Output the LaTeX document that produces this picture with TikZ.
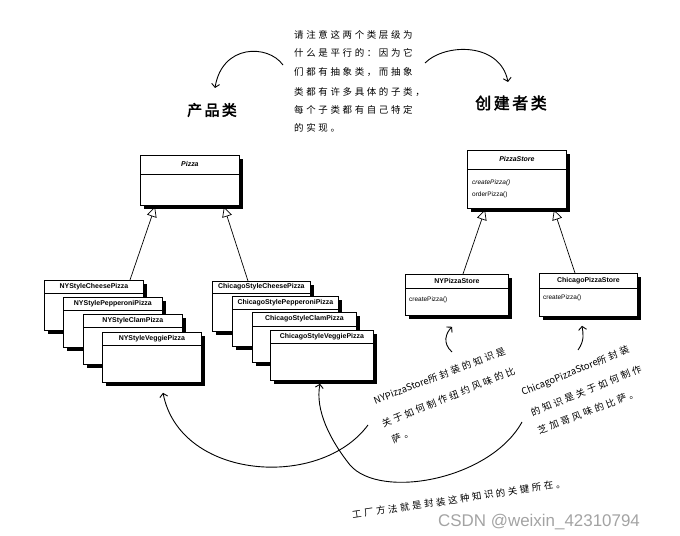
\documentclass[tikz,border=0pt]{standalone}
\usepackage{fontspec}
\setmainfont{Liberation Sans}
\newfontfamily\cjk[LetterSpace=28]{Noto Sans CJK SC}
\newfontfamily\cjklat{Noto Sans CJK SC}
\newfontfamily\cjkbold[FakeBold=2.5,LetterSpace=16]{Noto Sans CJK SC}
\usetikzlibrary{arrows.meta,calc}
\definecolor{wm}{HTML}{A3A3A3}
\newcommand\classbox[7]{%
  \fill[black] (#2+4,#3+4) rectangle (#2+#4+4,#3+#5+4);
  \node[classbox, anchor=north west, minimum width=#4bp, minimum height=#5bp] (#1) at (#2,#3) {};
  \draw[line width=0.6bp] ($(#1.north west)+(0,#6)$) coordinate (#1d1) -- ($(#1.north east)+(0,#6)$) coordinate (#1d2);
  \node[clstitle] (#1t) at ($(#1.north west)!0.5!(#1.north east)+(0,#6/2)$) {#7};
}
\begin{document}
\begin{tikzpicture}[x=1bp,y=-1bp,
  classbox/.style={draw, fill=white, line width=0.8bp, inner sep=0pt},
  clstitle/.style={font=\fontsize{7}{8}\selectfont\bfseries, inner sep=0pt},
  method/.style={font=\fontsize{6.5}{8}\selectfont, inner sep=0pt, anchor=west},
  gen/.style={line width=0.7bp, -{Triangle[open, length=10bp, width=10bp]}},
  hand/.style={line width=0.9bp, -{Straight Barb[length=3.5bp, width=8bp]}},
  note/.style={font=\fontsize{9.5}{11}\selectfont\cjk, inner sep=0pt, anchor=west},
  heading/.style={font=\fontsize{15}{17}\selectfont\cjkbold, inner sep=0pt},
]
\useasboundingbox (0,0) rectangle (680,536);

% top note
\node[note] (t1) at (294,35) {请注意这两个类层级为};
\node[note] (t2) at (294,53) {什么是平行的：因为它};
\node[note] (t3) at (294,72) {们都有抽象类，而抽象};
\node[note] (t4) at (294,92) {类都有许多具体的子类，};
\node[note] (t5) at (294,110) {每个子类都有自己特定};
\node[note] (t6) at (294,128) {的实现。};

% headings
\node[heading] (hp) at (212,110) {产品类};
\node[heading, font=\fontsize{16}{18}\selectfont\cjkbold] (hc) at (511,103) {创建者类};

\coordinate (la) at (283,65);
\coordinate (lb) at (215,88);
\draw[hand] (la) .. controls (268,44) and (222,44) .. (lb);
\coordinate (ra) at (425,63);
\coordinate (rb) at (508,82);
\draw[hand] (ra) .. controls (445,43) and (500,42) .. (rb);

% product classes
\classbox{pizza}{140}{155}{99}{50}{19}{\textit{Pizza}}

\classbox{nyc}{44}{280}{99}{50}{13}{NYStyleCheesePizza}
\classbox{nyp}{63}{297}{99}{50}{13}{NYStylePepperoniPizza}
\classbox{nycl}{83}{314}{99}{50}{13}{NYStyleClamPizza}
\classbox{nyv}{102}{332}{99}{50}{13}{NYStyleVeggiePizza}

\classbox{chc}{212}{281}{98}{50}{12}{ChicagoStyleCheesePizza}
\classbox{chp}{232}{296}{106}{50}{13}{ChicagoStylePepperoniPizza}
\classbox{chcl}{252}{312}{104}{50}{14}{ChicagoStyleClamPizza}
\classbox{chv}{270}{330}{103}{50}{13}{ChicagoStyleVeggiePizza}

\draw[gen] ($(nyc.north west)+(86,0)$) -- ($(pizza.south west)+(15,1)$);
\draw[gen] ($(chc.north west)+(36,0)$) -- ($(pizza.south west)+(84,1)$);

% creator classes
\classbox{ps}{467}{150}{99}{58}{19}{\textit{PizzaStore}}
\node[method] (psm1) at ($(ps.north west)+(5,33)$) {\textit{createPizza()}};
\node[method] (psm2) at ($(ps.north west)+(5,45)$) {orderPizza()};

\classbox{nyps}{405}{274}{103}{41}{14}{NYPizzaStore}
\node[method] (nypsm) at ($(nyps.north west)+(4,26)$) {createPizza()};
\classbox{chps}{539}{273}{98}{43}{15}{ChicagoPizzaStore}
\node[method] (chpsm) at ($(chps.north west)+(4,25)$) {createPizza()};

\draw[gen] ($(nyps.north west)+(58,0)$) -- ($(ps.south west)+(18,1)$);
\draw[gen] ($(chps.north west)+(36,0)$) -- ($(ps.south west)+(87,1)$);

% annotations
\node[note, rotate=21] (n1) at (374,401) {{\cjklat NYPizzaStore}所封装的知识是};
\node[note, rotate=22] (n2) at (382,424) {关于如何制作纽约风味的比};
\node[note, rotate=21] (n3) at (392,440) {萨。};

\node[note, rotate=22] (c1) at (522,393) {{\cjklat ChicagoPizzaStore}所封装};
\node[note, rotate=22] (c2) at (531,413) {的知识是关于如何制作};
\node[note, rotate=21] (c3) at (538,431) {芝加哥风味的比萨。};

\node[note, rotate=8.5] (b1) at (352,515) {工厂方法就是封装这种知识的关键所在。};

\coordinate (sa) at (452,352);
\draw[hand] (sa) .. controls (442,343) and (446,333) .. ($(nyps.south west)+(47,11)$);
\coordinate (sb) at (578,350);
\draw[hand] (sb) .. controls (585,340) and (583,333) .. ($(chps.south west)+(43,9)$);

\coordinate (ba) at (368,425);
\draw[hand] (ba) .. controls (320,490) and (180,480) .. ($(nyv.south west)+(61,10)$);
\coordinate (bb) at (522,422);
\coordinate (bm) at (350,465);
\draw[hand] (bb) .. controls (490,480) and (380,500) .. (bm) .. controls (330,440) and (315,410) .. ($(chv.south west)+(50,3)$);

% watermark
\node[font=\fontsize{17}{19}\selectfont, text=wm, anchor=west, inner sep=0pt] (wm) at (438,522) {CSDN @weixin\_42310794};
\end{tikzpicture}
\end{document}
